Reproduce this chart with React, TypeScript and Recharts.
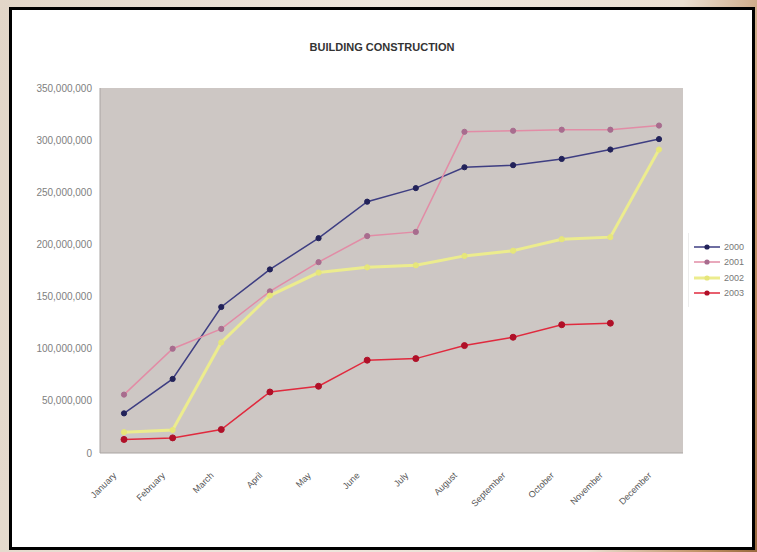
import { CartesianGrid, Legend, Line, LineChart, XAxis, YAxis } from "recharts";

const months = [
  "January", "February", "March", "April", "May", "June",
  "July", "August", "September", "October", "November", "December",
];

const y2000 = [38e6, 71e6, 140e6, 176e6, 206e6, 241e6, 254e6, 274e6, 276e6, 282e6, 291e6, 301e6];
const y2001 = [56e6, 100e6, 119e6, 155e6, 183e6, 208e6, 212e6, 308e6, 309e6, 310e6, 310e6, 314e6];
const y2002 = [20e6, 22e6, 106e6, 151e6, 173e6, 178e6, 180e6, 189e6, 194e6, 205e6, 207e6, 291e6];
const y2003: (number | null)[] = [13e6, 14.5e6, 22.5e6, 58.5e6, 64e6, 89e6, 90.5e6, 103e6, 111e6, 123e6, 124.5e6, null];

const yTicks = [0, 50e6, 100e6, 150e6, 200e6, 250e6, 300e6, 350e6];

const series = [
  { key: "2000", stroke: "#3e3e82", dot: "#22225a", width: 1.5, r: 2.6 },
  { key: "2001", stroke: "#e28ca6", dot: "#a86c8e", width: 1.5, r: 2.6 },
  { key: "2002", stroke: "#ecec8e", dot: "#e6e67a", width: 3, r: 2.6 },
  { key: "2003", stroke: "#e02a3e", dot: "#b01028", width: 1.5, r: 3 },
];

const data = months.map((m, i) => ({
  month: m,
  "2000": y2000[i],
  "2001": y2001[i],
  "2002": y2002[i],
  "2003": y2003[i],
}));

const fmt = (v: number) => v.toLocaleString("en-US");

const MonthTick = (props: any) => {
  const { x, y, payload } = props;
  return (
    <g transform={`translate(${x - 7},${y + 15})`}>
      <text textAnchor="end" transform="rotate(-45)" fontSize={9} fill="#555" fontFamily="Arial, 'Liberation Sans', sans-serif">
        {payload.value}
      </text>
    </g>
  );
};

const LegendBox = () => (
  <div style={{ borderLeft: "1px solid #ececec", padding: "6px 4px", fontFamily: "Arial, 'Liberation Sans', sans-serif" }}>
    {series.map((s) => (
      <div key={s.key} style={{ display: "flex", alignItems: "center", height: 15.5 }}>
        <svg width={28} height={10}>
          <line x1={1} y1={5} x2={27} y2={5} stroke={s.stroke} strokeWidth={s.width} />
          <circle cx={14} cy={5} r={2.6} fill={s.dot} />
        </svg>
        <span style={{ fontSize: 9, color: "#777", marginLeft: 3 }}>{s.key}</span>
      </div>
    ))}
  </div>
);

export default function App() {
  return (
    <div>
      <div
        style={{
          position: "fixed",
          inset: 0,
          background:
            "linear-gradient(100deg, #e2d6c8 0%, #eee6dd 45%, #eadfd2 80%, #c39468 93%, #9a6a3e 100%)",
        }}
      />
      <div
        style={{
          position: "absolute",
          left: 9,
          top: 7,
          width: 746,
          height: 543,
          boxSizing: "border-box",
          border: "3px solid #000",
          background: "#fff",
        }}
      >
        <div
          style={{
            position: "absolute",
            left: 0,
            right: 0,
            top: 31,
            textAlign: "center",
            fontFamily: "Arial, 'Liberation Sans', sans-serif",
            fontWeight: "bold",
            fontSize: 11,
            color: "#333",
          }}
        >
          BUILDING CONSTRUCTION
        </div>
        <LineChart
          width={740}
          height={537}
          data={data}
          margin={{ top: 78, right: 9, left: 0, bottom: 0 }}
        >
          <CartesianGrid horizontal={false} vertical={false} fill="#cdc7c4" />
          <XAxis
            dataKey="month"
            padding={{ left: 24, right: 24 }}
            height={94}
            tickLine={false}
            axisLine={{ stroke: "#a9a4a2" }}
            tick={<MonthTick />}
            interval={0}
          />
          <YAxis
            width={88}
            domain={[0, 350e6]}
            ticks={yTicks}
            tickFormatter={fmt}
            tickLine={false}
            axisLine={{ stroke: "#a9a4a2" }}
            tick={{ fontSize: 10, fill: "#808080", fontFamily: "Arial, 'Liberation Sans', sans-serif" }}
          />
          <Legend
            layout="vertical"
            align="right"
            verticalAlign="middle"
            width={60}
            wrapperStyle={{ left: 676, top: 223, width: 60 }}
            content={<LegendBox />}
          />
          {series.map((s) => (
            <Line
              key={s.key}
              dataKey={s.key}
              type="linear"
              stroke={s.stroke}
              strokeWidth={s.width}
              dot={{ r: s.r, fill: s.dot, stroke: s.dot, strokeWidth: 1 }}
              activeDot={false}
              isAnimationActive={false}
            />
          ))}
        </LineChart>
      </div>
    </div>
  );
}
